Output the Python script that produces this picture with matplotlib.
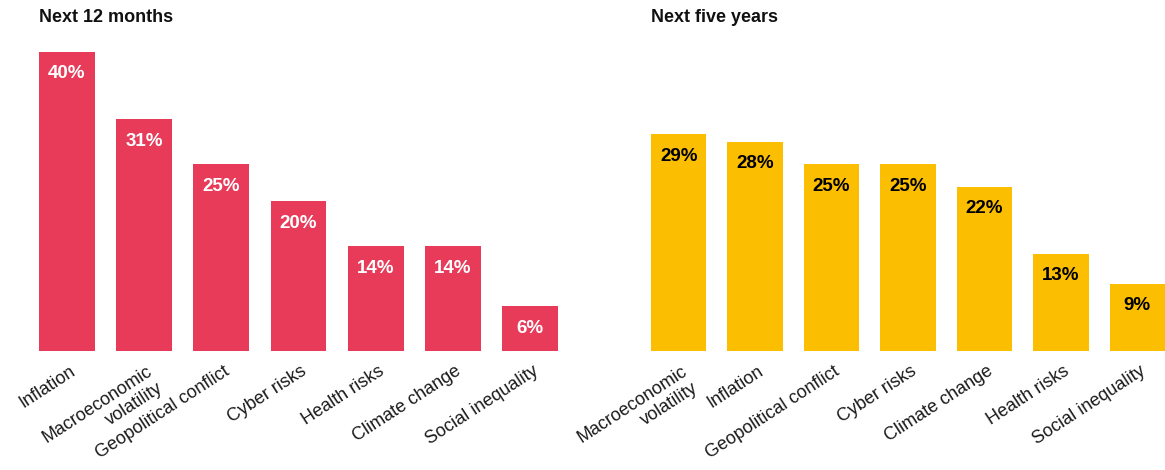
import matplotlib
matplotlib.use("Agg")
import matplotlib.pyplot as plt

plt.rcParams['font.family'] = ['Liberation Sans', 'DejaVu Sans']

left_title = "Next 12 months"
left_cats = ["Inflation", "Macroeconomic\nvolatility", "Geopolitical conflict", "Cyber risks",
             "Health risks", "Climate change", "Social inequality"]
left_vals = [40, 31, 25, 20, 14, 14, 6]

right_title = "Next five years"
right_cats = ["Macroeconomic\nvolatility", "Inflation", "Geopolitical conflict", "Cyber risks",
              "Climate change", "Health risks", "Social inequality"]
right_vals = [29, 28, 25, 25, 22, 13, 9]

RED = "#E83A59"
YELLOW = "#FBBE00"

W, H = 1165, 470
fig = plt.figure(figsize=(W / 100, H / 100), dpi=100)

bw = 0.725
y0 = 1 - 351 / H
y1 = 1 - 52 / H


def panel(x_left, x_right, cats, vals, color, txtcolor, title):
    ax = fig.add_axes([x_left / W, y0, (x_right - x_left) / W, y1 - y0])
    n = len(vals)
    xs = list(range(n))
    ax.bar(xs, vals, width=bw, color=color)
    ax.set_xlim(-bw / 2, n - 1 + bw / 2)
    ax.set_ylim(0, 40)
    ax.axis('off')
    for x, v in zip(xs, vals):
        ax.annotate(f"{v}%", (x, v), xytext=(0, -22), textcoords='offset pixels',
                    ha='center', va='center', fontsize=13.5, fontweight='bold', color=txtcolor)
    for x, c in zip(xs, cats):
        ax.annotate(c, (x, 0), xytext=(2, -12), textcoords='offset pixels',
                    ha='right', va='top', rotation=33, rotation_mode='anchor',
                    fontsize=13, color='#1a1a1a', multialignment='right',
                    linespacing=1.25)
    fig.text(x_left / W, 1 - 18 / H, title, ha='left', va='center',
             fontsize=13, fontweight='bold', color='#111111')


panel(39, 558, left_cats, left_vals, RED, 'white', left_title)
panel(651, 1165, right_cats, right_vals, YELLOW, 'black', right_title)

fig.savefig("out.png", dpi=100, facecolor='white')
